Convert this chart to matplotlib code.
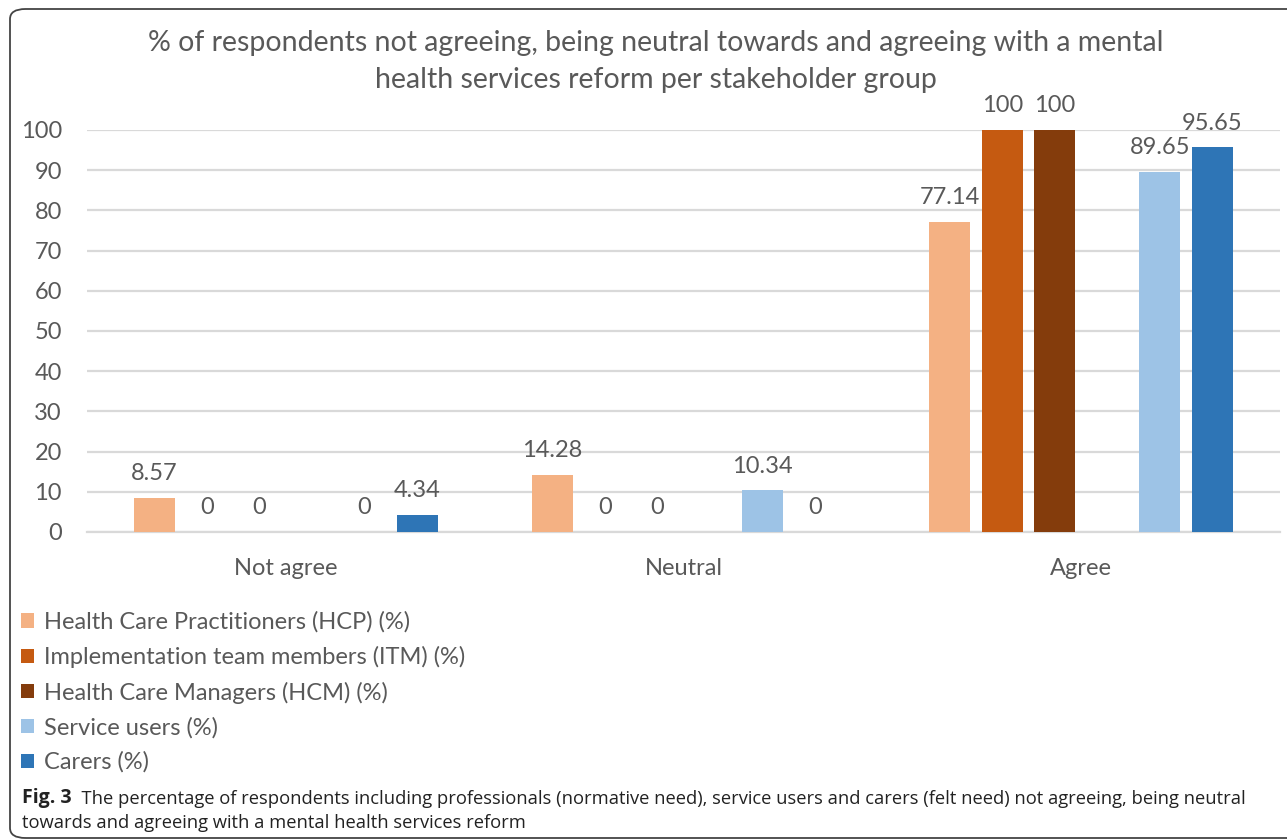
import numpy as np
import matplotlib
matplotlib.use("Agg")
import matplotlib.pyplot as plt
from matplotlib.patches import FancyBboxPatch

categories = ["Not agree", "Neutral", "Agree"]
series = [
    "Health Care Practitioners (HCP) (%)",
    "Implementation team members (ITM) (%)",
    "Health Care Managers (HCM) (%)",
    "Service users (%)",
    "Carers (%)",
]
hcp = [8.57, 14.28, 77.14]
itm = [0, 0, 100]
hcm = [0, 0, 100]
service_users = [0, 10.34, 89.65]
carers = [4.34, 0, 95.65]
yticks = [0, 10, 20, 30, 40, 50, 60, 70, 80, 90, 100]

colors = ["#F4B183", "#C55A11", "#843C0C", "#9DC3E6", "#2E75B6"]
# six slots per group, the fourth one is left empty
slots = [-2.5, -1.5, -0.5, 1.5, 2.5]
slot_w = 0.132
bar_w = 0.103

text_grey = "#595959"
chart_font = "Lato"
fs = 17

W, H = 1287, 839
fig = plt.figure(figsize=(W / 100, H / 100), dpi=100)
ax = fig.add_axes([87 / W, 1 - 532 / H, (1280 - 87) / W, (532 - 130) / H])

x = np.arange(len(categories))
for vals, name, col, s in zip([hcp, itm, hcm, service_users, carers], series, colors, slots):
    bars = ax.bar(x + s * slot_w, vals, width=bar_w, color=col, label=name, zorder=3)
    ax.bar_label(bars, labels=[f"{v:g}" for v in vals], padding=10,
                 fontsize=fs, color=text_grey, family=chart_font, clip_on=False)

ax.set_xlim(-0.5, 2.5)
ax.set_ylim(0, 100)
ax.set_yticks(yticks)
ax.set_xticks(x)
ax.set_xticklabels(categories)
ax.yaxis.grid(True, color="#D9D9D9", linewidth=1.6, zorder=0)
ax.set_axisbelow(True)
for side in ["left", "right", "top"]:
    ax.spines[side].set_visible(False)
ax.spines["bottom"].set_color("#D9D9D9")
ax.spines["bottom"].set_linewidth(1.6)
ax.tick_params(axis="both", length=0, labelsize=fs, labelcolor=text_grey)
ax.tick_params(axis="y", pad=18)
ax.tick_params(axis="x", pad=18.5)
for lbl in ax.get_xticklabels() + ax.get_yticklabels():
    lbl.set_family(chart_font)

fig.text(656 / W, 1 - 43 / H,
         "% of respondents not agreeing, being neutral towards and agreeing with a mental",
         ha="center", va="center", fontsize=20.5, color=text_grey, family=chart_font)
fig.text(656 / W, 1 - 80 / H,
         "health services reform per stakeholder group",
         ha="center", va="center", fontsize=20.5, color=text_grey, family=chart_font)

leg = fig.legend(loc="upper left", bbox_to_anchor=(12 / W, 1 - 602 / H),
                 borderaxespad=0, frameon=False, handlelength=0.55, handleheight=0.55,
                 handletextpad=0.42, labelspacing=0.56,
                 prop={"family": chart_font, "size": fs})
for t in leg.get_texts():
    t.set_color(text_grey)

# caption below the chart
cap_fs = 13.25
cap = fig.text(22 / W, 1 - 798 / H, "Fig. 3", ha="left", va="center", fontsize=14,
               fontweight="bold", color="#222222", family="Open Sans")
ax.annotate("  The percentage of respondents including professionals (normative need), "
            "service users and carers (felt need) not agreeing, being neutral",
            xy=(1, 0), xycoords=cap, ha="left", va="bottom", fontsize=cap_fs,
            color="#222222", family="Open Sans", annotation_clip=False)
fig.text(22 / W, 1 - 823 / H,
         "towards and agreeing with a mental health services reform",
         ha="left", va="center", fontsize=cap_fs, color="#222222", family="Open Sans")

frame = FancyBboxPatch((10 / W, 1 / H), (1400 - 10) / W, (830 - 1) / H,
                       boxstyle="round,pad=0,rounding_size=0.012",
                       transform=fig.transFigure, fill=False,
                       edgecolor="#444444", linewidth=1.3)
fig.patches.append(frame)

fig.savefig("out.png", dpi=100)
